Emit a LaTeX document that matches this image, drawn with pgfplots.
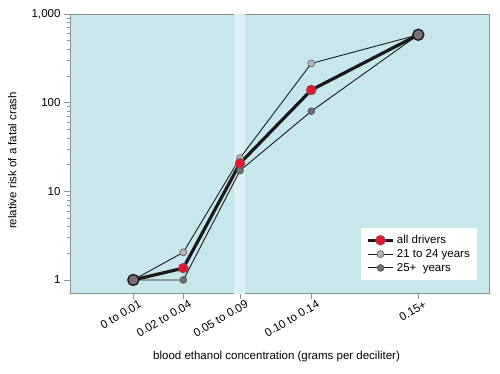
\documentclass[border=0pt]{standalone}
\usepackage{pgfplots}
\pgfplotsset{compat=1.18}
\usepackage{fontspec}
\setmainfont{Liberation Sans}
\definecolor{bgc}{HTML}{C8E7EC}
\definecolor{bandc}{HTML}{DDF0F3}
\definecolor{redc}{HTML}{E2182E}
\definecolor{lgray}{HTML}{B5B5B5}
\definecolor{dgray}{HTML}{707070}
\definecolor{endc}{HTML}{7A6F77}
\definecolor{axc}{HTML}{8A9498}
\definecolor{linec}{HTML}{1A1A1A}
\begin{document}
\fontsize{11.5}{13}\selectfont
\begin{tikzpicture}
\begin{axis}[name=ax, at={(0,0)}, anchor=south west, scale only axis,
 width=419pt, height=279.7pt,
 xmin=70, xmax=489, ymode=log, ymin=0.7, ymax=1000,
 axis background/.style={fill=bgc},
 axis line style={axc, line width=0.8pt},
 tick pos=left, tick align=outside,
 xtick={133.3,183.3,240,311.3,418.3},
 xticklabels={0 to 0.01, 0.02 to 0.04, 0.05 to 0.09, 0.10 to 0.14, 0.15+},
 xticklabel style={rotate=30, anchor=east, xshift=8pt, yshift=-7pt},
 ytick={1,10,100,1000}, yticklabels={1,10,100,{1,000}},
 /pgf/number format/assume math mode=true,
 major tick length=5.5pt, minor tick length=3pt,
 tick style={axc, line width=0.8pt},
 xlabel={blood ethanol concentration (grams per deciliter)},
 ylabel={relative risk of a fatal crash},
 xlabel style={at={(axis description cs:0.493,-0.223)}, anchor=center},
 ylabel style={at={(axis description cs:-0.138,0.476)}, anchor=center},
 legend style={at={(1,0)}, anchor=south east, xshift=-12pt, yshift=13.7pt,
   draw=none, fill=white, inner xsep=5pt, inner ysep=5pt, row sep=0pt,
   font=\fontsize{11.5}{13}\selectfont},
 legend cell align=left,
 legend image code/.code={\draw[mark repeat=2,mark phase=2] plot coordinates {(0cm,0cm) (0.45cm,0cm) (0.9cm,0cm)};},
]
\addplot[fill=bandc, draw=none, forget plot] coordinates {(234,0.7) (234,1000) (245,1000) (245,0.7)} -- cycle;
\addplot[linec, line width=0.9pt, mark=*, mark size=3.5pt, mark options={fill=lgray, draw=black!70, line width=0.5pt}, forget plot]
 coordinates {(133.3,1) (183.3,2.05) (240,23.7) (311.3,277) (418.3,583)};
\addplot[linec, line width=0.9pt, mark=*, mark size=3.5pt, mark options={fill=dgray, draw=black!70, line width=0.5pt}, forget plot]
 coordinates {(133.3,1) (183.3,1) (240,17.1) (311.3,80) (418.3,583)};
\addplot[linec, line width=3.2pt, mark=*, mark size=5pt, mark options={fill=redc, draw=black!60, line width=0.5pt}]
 coordinates {(133.3,1) (183.3,1.36) (240,20.7) (311.3,139) (418.3,583)};
\addlegendentry{all drivers}
\addplot[only marks, mark=*, mark size=5.5pt, mark options={fill=endc, draw=linec, line width=1.4pt}, forget plot]
 coordinates {(133.3,1) (418.3,583)};
\addlegendimage{linec, line width=0.9pt, mark=*, mark size=3.5pt, mark options={fill=lgray, draw=black!70, line width=0.5pt}}
\addlegendentry{21 to 24 years}
\addlegendimage{linec, line width=0.9pt, mark=*, mark size=3.5pt, mark options={fill=dgray, draw=black!70, line width=0.5pt}}
\addlegendentry{25+\ \ years}
\end{axis}
\pgfresetboundingbox
\path[use as bounding box] ([xshift=-70pt,yshift=-79.3pt]ax.south west) rectangle ([xshift=11pt,yshift=14pt]ax.north east);
\end{tikzpicture}
\end{document}
